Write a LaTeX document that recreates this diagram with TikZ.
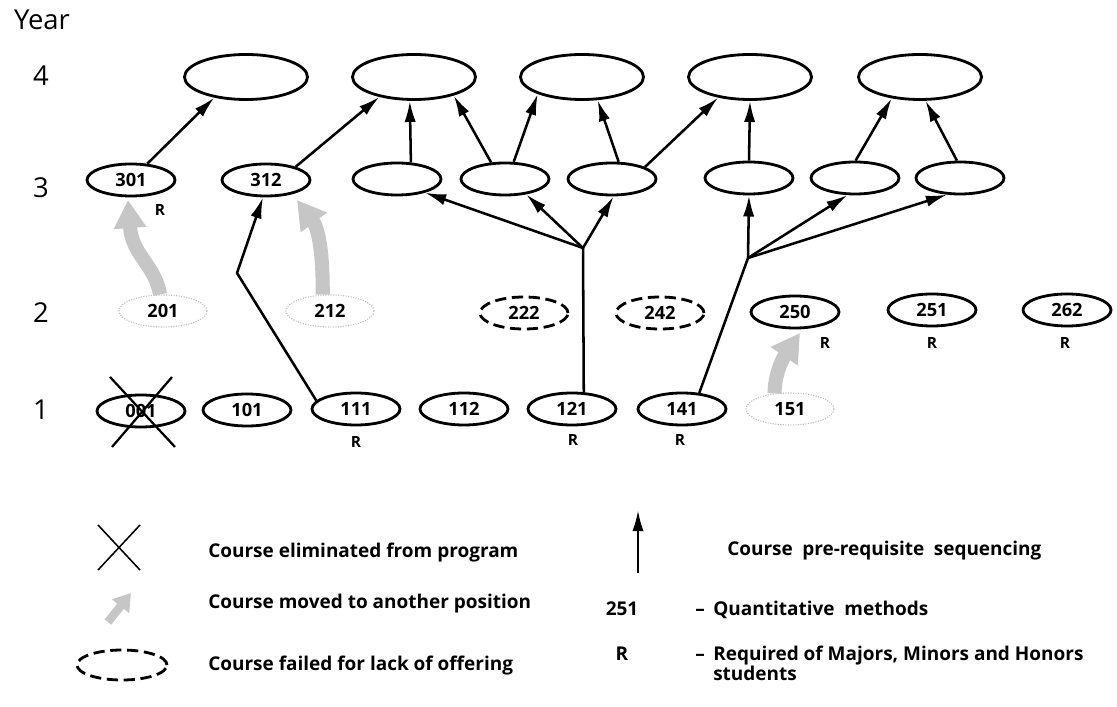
\documentclass[tikz,border=0pt]{standalone}
\usepackage{fontspec}
\setmainfont{Open Sans}
\usetikzlibrary{shapes.geometric,arrows.meta}
\begin{document}
\begin{tikzpicture}[x=0.025cm,y=-0.025cm,line join=round]
    \tikzstyle{course} = [ellipse,draw,line width=2pt,minimum width=2.2cm,minimum height=0.8cm,
                          inner sep=0pt,font=\fontsize{13}{15}\selectfont\bfseries]
    \tikzstyle{upper} = [course,minimum width=3.075cm,minimum height=1.125cm]
    \tikzstyle{ghost} = [course,draw=gray!50,line width=0.8pt,densely dotted]
    \tikzstyle{failed} = [course,dash pattern=on 8pt off 4pt]
    \tikzstyle{req} = [font=\fontsize{11}{13}\selectfont\bfseries]
    \tikzstyle{yearlbl} = [font=\fontsize{19.5}{21}\selectfont]
    \tikzstyle{pre} = [line width=1.8pt,-{Latex[length=15pt,width=8pt]}]
    \tikzstyle{moved} = [line width=10pt,gray!45,-{Triangle[width=22pt,length=20pt]}]
    \tikzstyle{legtext} = [anchor=base west,inner sep=0pt,font=\fontsize{13.5}{15}\selectfont\bfseries]

    \useasboundingbox (0,0) rectangle (1117,707);

    % Year axis
    \node[yearlbl] (year) at (42,20) {Year};
    \node[yearlbl] (yr4) at (41,76) {4};
    \node[yearlbl] (yr3) at (41,188) {3};
    \node[yearlbl] (yr2) at (41,313) {2};
    \node[yearlbl] (yr1) at (41,410) {1};

    % Fourth year
    \foreach \n/\x in {a/246,b/414,c/582,d/750,e/920}
        \node[upper] (y4\n) at (\x,77) {};

    % Third year
    \node[course] (s301) at (131,180) {301};
    \node[course] (s312) at (266,180) {312};
    \node[course] (y3a) at (397,179) {};
    \node[course] (y3b) at (505,179) {};
    \node[course] (y3c) at (612,179) {};
    \node[course] (y3d) at (749,178) {};
    \node[course] (y3e) at (855,178) {};
    \node[course] (y3f) at (960,178) {};

    % Second year
    \node[ghost] (s201) at (163,311) {201};
    \node[ghost] (s212) at (330,311) {212};
    \node[failed] (s222) at (524,313) {222};
    \node[failed] (s242) at (660,313) {242};
    \node[course] (s250) at (795,312) {250};
    \node[course] (s251) at (932,310) {251};
    \node[course] (s262) at (1067,310) {262};

    % First year
    \node[course] (s001) at (141,411) {001};
    \node[course] (s101) at (247,410) {101};
    \node[course] (s111) at (356,409) {111};
    \node[course] (s112) at (464,409) {112};
    \node[course] (s121) at (572,409) {121};
    \node[course] (s141) at (682,409) {141};
    \node[ghost] (s151) at (790,409) {151};

    % required marks
    \foreach \n/\x/\y in {301/160/210,250/825/343,251/932/343,262/1065/343,
                          111/356/442,121/573/440,141/680/440}
        \node[req] (r\n) at (\x,\y) {R};

    % eliminated
    \draw[line width=1.6pt] (s001) ++(-31,-34) -- ++(65,70);
    \draw[line width=1.6pt] (s001) ++(31,-34) -- ++(-60,70);

    % moved courses
    \draw[moved] (s201.100) .. controls (155,265) and (132,255) .. ([shift={(-3,20)}]s301.center);
    \draw[moved] (s212.114) .. controls (323,250) and (318,228) .. ([shift={(31,20)}]s312.center);
    \draw[moved] (s151.135) .. controls (775,370) and (785,355) .. ([shift={(5,21)}]s250.center);

    % pre-requisites
    \coordinate (b121) at (583,248);
    \coordinate (b141) at (748,258);
    \coordinate (b111) at (237,273);
    \draw[pre] (s301.45) -- (y4a.213);
    \draw[pre] (s312.24) -- (y4b.210);
    \draw[pre] (s111.168) -- (b111) -- (s312.260);
    \draw[pre] (y3a.50) -- (y4b.260);
    \draw[pre] (y3b.130) -- (y4b.335);
    \draw[pre] (y3b.63) -- (y4c.201);
    \draw[pre] (y3c.69) -- (y4c.304);
    \draw[pre] (y3c.20) -- (y4d.213);
    \draw[pre] (y3d.north) -- (y4d.south);
    \draw[pre] (y3e.88) -- (y4e.217);
    \draw[pre] (y3f.100) -- (y4e.283);
    \draw[line width=1.8pt] (s121.55) -- (b121);
    \draw[pre] (b121) -- (y3a.334);
    \draw[pre] (b121) -- (y3b.324);
    \draw[pre] (b121) -- (y3c.275);
    \draw[line width=1.8pt] (s141.43) -- (b141);
    \draw[pre] (b141) -- (y3d.south);
    \draw[pre] (b141) -- (y3e.246);
    \draw[pre] (b141) -- (y3f.232);

    % Legend
    \coordinate (xmark) at (119,547);
    \draw[line width=1.1pt] (xmark) ++(-21,-22) -- ++(42,45) ++(0,-45) -- ++(-42,45);
    \node[legtext] (lelim) at (208,557) {Course eliminated from program};
    \coordinate (movA) at (108,622);
    \coordinate (movB) at (131,593);
    \draw[moved,line width=6pt,-{Triangle[width=15pt,length=12pt]}] (movA) -- (movB);
    \node[legtext] (lmove) at (208,608) {Course moved to another position};
    \node[failed,minimum width=2.25cm,minimum height=0.75cm] (lfail) at (122,665) {};
    \node[legtext] (lfailtxt) at (208,670) {Course failed for lack of offering};

    \coordinate (preA) at (638,573);
    \coordinate (preB) at (638,510);
    \draw[pre] (preA) -- (preB);
    \node[legtext] (lpre) at (727,555) {Course\hspace{0.5em}pre-requisite\hspace{0.5em}sequencing};
    \node[legtext,anchor=base] (l251) at (622,615) {251};
    \node[legtext,anchor=base] (ldash1) at (700,615) {--};
    \node[legtext] (lquant) at (713,615) {Quantitative\ \ methods};
    \node[legtext,anchor=base] (lR) at (622,660) {R};
    \node[legtext,anchor=base] (ldash2) at (700,660) {--};
    \node[legtext,anchor=north west,align=left,yshift=10pt,font=\fontsize{13.5}{14.2}\selectfont\bfseries]
        (lreq) at (713,660) {Required of Majors, Minors and Honors\\students};
\end{tikzpicture}
\end{document}
